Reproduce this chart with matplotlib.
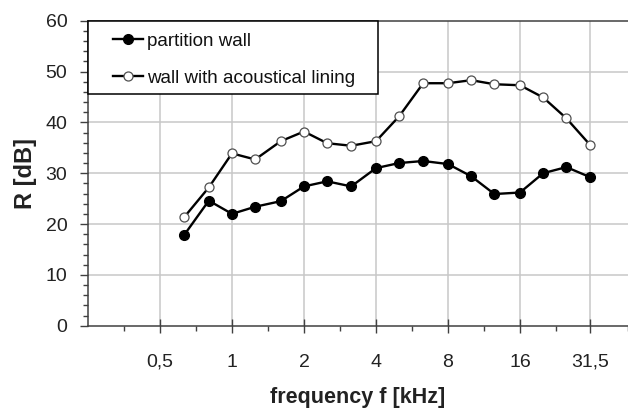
import matplotlib
matplotlib.use("Agg")
import matplotlib.pyplot as plt
from matplotlib.ticker import FixedLocator, NullFormatter
from matplotlib.patches import Rectangle

plt.rcParams['font.family'] = ['Liberation Sans', 'DejaVu Sans']

freq_khz = [0.63, 0.8, 1, 1.25, 1.6, 2, 2.5, 3.15, 4, 5, 6.3, 8, 10, 12.5, 16, 20, 25, 31.5]
partition_wall = [17.8, 24.6, 22.0, 23.4, 24.5, 27.4, 28.4, 27.4, 31.0, 32.0, 32.4, 31.8, 29.4, 25.9, 26.2, 30.0, 31.2, 29.2]
lined_wall = [21.3, 27.2, 33.9, 32.7, 36.3, 38.2, 35.9, 35.4, 36.3, 41.2, 47.7, 47.7, 48.3, 47.5, 47.3, 44.9, 40.8, 35.5]
xtick_values = [0.5, 1, 2, 4, 8, 16, 31.5]
xtick_labels = ['0,5', '1', '2', '4', '8', '16', '31,5']
series_labels = ['partition wall', 'wall with acoustical lining']

W, H = 628, 409
fig = plt.figure(figsize=(W / 100, H / 100), dpi=100)
ax = fig.add_axes([88 / W, (H - 325.7) / H, 540 / W, 305 / H])

ax.set_xscale('log', base=2)
ax.set_xlim(0.25, 0.5 * 2 ** 6.5)
ax.set_ylim(0, 60)

axis_col = '#404040'
ax.grid(False)
for v in range(10, 60, 10):
    ax.axhline(v, color='#c8c8c8', lw=1.1, zorder=0)
for v in xtick_values:
    ax.axvline(v, color='#c8c8c8', lw=1.1, zorder=0)

ax.plot(freq_khz, partition_wall, color='black', lw=1.7, marker='o', ms=7,
        mfc='black', mec='black', label=series_labels[0], zorder=3)
ax.plot(freq_khz, lined_wall, color='black', lw=1.7, marker='o', ms=6.5,
        mfc='white', mec='#505050', mew=0.9, label=series_labels[1], zorder=3)

ax.xaxis.set_major_locator(FixedLocator(xtick_values))
ax.set_xticklabels(xtick_labels)
ax.xaxis.set_minor_locator(FixedLocator([0.5 * 2 ** (k + 0.5) for k in range(-1, 7)]))
ax.xaxis.set_minor_formatter(NullFormatter())
ax.set_yticks(range(0, 61, 10))
ax.yaxis.set_minor_locator(FixedLocator(range(0, 61, 2)))

ax.tick_params(axis='x', which='major', direction='inout', length=9.4, width=1.0,
               color=axis_col, labelsize=14, pad=15.5, labelcolor='#222222')
ax.tick_params(axis='x', which='minor', direction='out', length=3.6, width=1.0, color=axis_col)
ax.tick_params(axis='y', which='major', direction='out', length=5.8, width=1.0,
               color=axis_col, labelsize=14, pad=9, labelcolor='#222222')
ax.tick_params(axis='y', which='minor', direction='out', length=3.6, width=1.0, color=axis_col)

for s in ['left', 'bottom', 'top']:
    ax.spines[s].set_color(axis_col)
    ax.spines[s].set_linewidth(1.1)
ax.spines['right'].set_visible(False)

ax.set_ylabel('R [dB]', fontsize=17, fontweight='bold', color='#222222', labelpad=6)
ax.set_xlabel('frequency f [kHz]', fontsize=15.5, fontweight='bold', color='#222222', labelpad=11.5)

# legend frame
ax.add_patch(Rectangle((0, (325.7 - 94.3) / 305), (378 - 88) / 540, (94.3 - 21) / 305,
                       transform=ax.transAxes, facecolor='white', edgecolor='black',
                       lw=1.1, zorder=4, clip_on=False))
leg = ax.legend(loc='upper left', bbox_to_anchor=((112.7 - 88) / 540, (325.7 - 32.5) / 305),
                borderaxespad=0, borderpad=0, fontsize=13.5, frameon=False,
                handlelength=1.63, handletextpad=0.18, labelspacing=1.06)
leg.set_zorder(5)
for t in leg.get_texts():
    t.set_color('#111111')

fig.savefig('out.png', dpi=100)
